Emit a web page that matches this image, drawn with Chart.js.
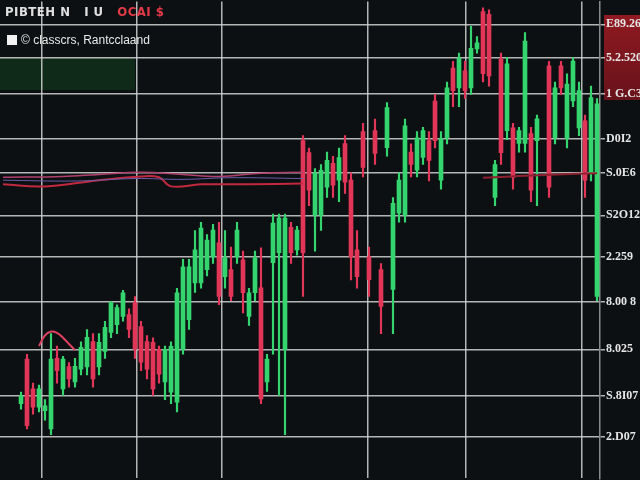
<!DOCTYPE html>
<html>
<head>
<script src="https://cdn.jsdelivr.net/npm/chart.js"></script>
<style>
  body { margin: 0; background: #0c1013; }
  #wrap { position: relative; width: 640px; height: 480px; overflow: hidden; background: #0c1013; }
  .panel { position: absolute; }
  #greenBox { left: 0; top: 58px; width: 135px; height: 32px; background: #0f2a19; }
  #redBox { left: 604px; top: 15px; width: 36px; height: 85px; background: linear-gradient(#901a21, #68121a); }
  canvas { position: absolute; left: 0; top: 0; }
  #title { position: absolute; left: 5px; top: 4px; font: bold 13px "Liberation Sans Narrow", "DejaVu Sans Condensed", sans-serif; color: #e0e0e0; letter-spacing: 0.5px; white-space: pre; }
  #title span { color: #e23a48; }
  #legend { position: absolute; left: 7px; top: 33px; font: 12px "Liberation Sans", sans-serif; color: #e8e8e8; }
  #legend i { display: inline-block; width: 10px; height: 10px; background: #f2f2f2; vertical-align: -1px; margin-right: 4px; }
</style>
</head>
<body>
<div id="wrap">
  <div id="greenBox" class="panel"></div>
  <div id="redBox" class="panel"></div>
  <canvas id="chart" width="640" height="480"></canvas>
  <div id="title">PIBTEH N   I U   <span>OCAI $</span></div>
  <div id="legend"><i></i>© classcrs, Rantcclaand</div>
</div>

<script>
// candles, one slot each (null = empty slot)
const opens = [
  null, null, null, 8.0, 18.8, 11.6, 7.2, 6.3, 1.9, 19.0,
  11.6, 17.0, 13.3, 16.4, 16.9, 23.1, 16.9, 20.7, 25.3, 27.2,
  29.2, 29.6, 32.5, 26.7, 23.1, 22.9, 21.2, 13.3, 10.8, 8.4,
  21.2, 28.4, 37.3, 37.3, 40.5, 43.6, 47.0, 38.8, 40.5, 43.6,
  42.9, 29.2, 34.9, 36.1, 13.3, 42.2, 44.6, 21.2, 50.8, 45.3,
  71.8, 68.9, 53.7, 53.7, 60.5, 66.3, 62.2, 71.1, 62.2, 45.3,
  74.0, 43.6, 74.2, 40.5, 70.1, 35.7, 54.2, 53.7, 69.0, 64.6,
  67.7, 71.8, 81.4, 62.2, 72.5, 89.4, 84.6, 88.7, 84.6, 94.0,
  103.1, 102.4, 58.0, 91.6, 74.2, 74.9, 71.1, 71.1, 73.5, 71.8,
  null, 89.9, 72.5, 89.9, 72.3, 81.4, 74.9, 76.6, 63.9, 34.0
];
const closes = [
  null, null, null, 9.9, 2.7, 7.2, 11.6, 7.5, 18.8, 16.0,
  18.8, 14.0, 17.1, 21.7, 24.1, 14.0, 22.9, 26.5, 32.5, 31.3,
  34.9, 26.0, 21.2, 18.1, 16.4, 11.6, 15.2, 21.2, 21.9, 34.9,
  41.2, 41.2, 45.3, 50.6, 47.7, 50.1, 34.0, 43.4, 34.0, 50.1,
  34.9, 34.9, 43.4, 9.2, 18.8, 51.8, 53.0, 53.0, 44.6, 50.1,
  44.6, 59.8, 63.9, 64.6, 67.0, 61.0, 67.7, 61.7, 43.6, 38.8,
  65.3, 38.1, 68.7, 31.6, 79.8, 56.6, 62.2, 75.4, 66.0, 72.5,
  74.2, 67.0, 71.8, 72.3, 84.6, 83.9, 91.8, 83.9, 94.2, 95.5,
  88.0, 87.5, 66.0, 68.9, 90.4, 62.9, 74.2, 95.9, 59.8, 77.1,
  null, 60.5, 84.6, 84.6, 85.5, 91.1, 83.9, 62.2, 82.2, 80.7
];
const highs = [
  null, null, null, 10.8, 20.0, 13.0, 12.5, 9.0, 25.0, 22.0,
  19.5, 18.0, 19.0, 23.0, 26.0, 25.0, 25.0, 28.0, 32.8, 32.0,
  35.5, 31.0, 34.0, 28.0, 24.5, 24.0, 22.0, 22.0, 23.0, 36.0,
  43.0, 43.0, 50.0, 52.0, 49.0, 51.5, 52.0, 50.0, 46.0, 52.0,
  45.0, 36.0, 45.0, 45.8, 20.0, 54.0, 54.0, 54.0, 52.0, 51.0,
  73.0, 70.0, 65.0, 66.0, 69.0, 68.0, 70.0, 73.0, 64.0, 50.0,
  76.0, 46.0, 77.0, 42.0, 81.0, 58.0, 64.0, 77.0, 71.0, 74.0,
  75.0, 74.0, 83.0, 74.0, 86.0, 91.0, 93.0, 91.0, 99.5, 97.0,
  104.0, 103.5, 67.0, 93.0, 92.0, 76.0, 75.0, 98.0, 75.0, 78.0,
  null, 91.0, 86.0, 91.0, 88.0, 92.0, 86.0, 78.0, 85.0, 82.0
];
const lows = [
  null, null, null, 6.7, 1.9, 5.5, 6.0, 4.0, 0.5, 13.0,
  10.0, 12.0, 12.0, 15.0, 15.0, 12.0, 15.0, 19.0, 24.0, 25.0,
  28.0, 24.0, 19.0, 16.0, 14.0, 10.0, 13.0, 9.0, 8.0, 6.0,
  20.0, 26.0, 35.0, 36.0, 39.0, 42.0, 32.0, 36.0, 33.0, 42.0,
  30.0, 27.0, 33.0, 8.0, 11.0, 20.0, 10.0, 0.5, 42.0, 44.0,
  34.0, 56.0, 45.0, 50.0, 58.0, 58.0, 57.0, 59.0, 38.0, 36.0,
  63.0, 34.0, 66.0, 25.0, 68.0, 25.0, 52.0, 52.0, 63.0, 63.0,
  66.0, 62.0, 70.0, 60.0, 71.0, 80.0, 80.0, 82.0, 83.0, 93.0,
  86.0, 85.0, 56.0, 66.0, 72.0, 60.0, 69.0, 69.0, 57.0, 56.0,
  null, 58.0, 71.0, 83.0, 70.0, 80.0, 73.0, 58.0, 62.0, 33.0
];

// overlay lines as [slot, value]
const maRed = [[0, 61.2], [7, 60.7], [16, 62.2], [23, 63.1], [26, 62.9], [28, 60.7], [33, 61.2], [41, 61.2], [50, 61.4]];
const maPink = [[0, 62.9], [10, 63.1], [16, 63.6], [23, 64.1], [30, 63.6], [36, 63.1], [43, 63.9], [50, 64.1]];
const maBlue = [[0, 62.2], [12, 62.0], [22, 62.6], [30, 62.4], [38, 62.8], [50, 62.6]];
const maRight = [[80, 62.8], [86, 63.2], [92, 63.6], [99, 63.9]];
const arcLine = [[6, 22.0], [7, 24.6], [8, 25.5], [9, 25.2], [10, 24.0], [11, 22.5], [12, 21.0]];

const yTickValues = [0, 9.9, 21.2, 32.8, 43.6, 53.7, 63.9, 72.3, 83.1, 91.8, 100];
const yTickLabels = ["2.D07", "S.8I07", "8.025", "8.00 8", "2.259", "S2O12", "S.0E6", "D0I2", "1 G.C38", "5.2.520", "E89.262"];
const vGridSlots = [6.5, 22.3, 36.5, 60.8, 77.2, 96.5];

const slots = opens.map((_, i) => String(i + 1));
const up = '#34d46e', down = '#e23658';
const candleColor = ctx => closes[ctx.dataIndex] >= opens[ctx.dataIndex] ? up : down;
const pts = arr => arr.map(p => ({ x: slots[p[0]], y: p[1] }));
const lineSet = (arr, color, width) => ({
  type: 'line', data: pts(arr), borderColor: color, borderWidth: width,
  pointRadius: 0, tension: 0.4, spanGaps: true, order: 0
});

const gridColor = 'rgba(210,210,210,0.85)';
const lastY = yTickLabels.length + 1;
const isEdge = i => i === 0 || i === lastY;

new Chart(document.getElementById('chart'), {
  type: 'bar',
  data: {
    labels: slots,
    datasets: [
      {
        label: 'wicks',
        data: lows.map((l, i) => l == null ? null : [l, highs[i]]),
        backgroundColor: candleColor,
        barThickness: 1.5, grouped: false, order: 2
      },
      {
        label: 'bodies',
        data: opens.map((o, i) => o == null ? null : [o, closes[i]]),
        backgroundColor: candleColor,
        barThickness: 4, grouped: false, order: 1
      },
      lineSet(maBlue, '#6a5ca8', 1),
      lineSet(maPink, '#b0406e', 1.5),
      lineSet(maRed, '#c2283e', 2),
      lineSet(maRight, '#8e2030', 2),
      lineSet(arcLine, '#e04262', 2)
    ]
  },
  options: {
    responsive: false,
    animation: false,
    layout: { padding: 0 },
    plugins: { legend: { display: false }, tooltip: { enabled: false } },
    scales: {
      x: { type: 'category', display: false, offset: true },
      xg: {
        type: 'linear', position: 'bottom', min: -0.5, max: 99.5, offset: false,
        ticks: { display: false },
        grid: { color: gridColor, lineWidth: 1.5, drawTicks: false, offset: false },
        border: { display: false },
        afterBuildTicks: s => { s.ticks = vGridSlots.map(v => ({ value: v })); },
        afterFit: s => { s.height = 0; }
      },
      y: {
        position: 'right', min: -10.1, max: 105.5,
        // edge ticks carry empty tiny labels so the axis adds no label padding
        afterBuildTicks: s => { s.ticks = [s.min, ...yTickValues, s.max].map(v => ({ value: v })); },
        afterFit: s => { s.width = 40; },
        ticks: {
          color: '#e6e6e6', padding: 1,
          font: ctx => isEdge(ctx.index) ? { size: 1 } : { family: 'Liberation Serif', weight: 'bold', size: 12 },
          callback: (v, i) => isEdge(i) ? '' : yTickLabels[i - 1]
        },
        grid: {
          color: ctx => isEdge(ctx.index) ? 'rgba(0,0,0,0)' : gridColor,
          lineWidth: 1.5, tickLength: 5
        },
        border: { display: true, color: '#8a8a8a', width: 1.5 }
      }
    }
  }
});
</script>
</body>
</html>
